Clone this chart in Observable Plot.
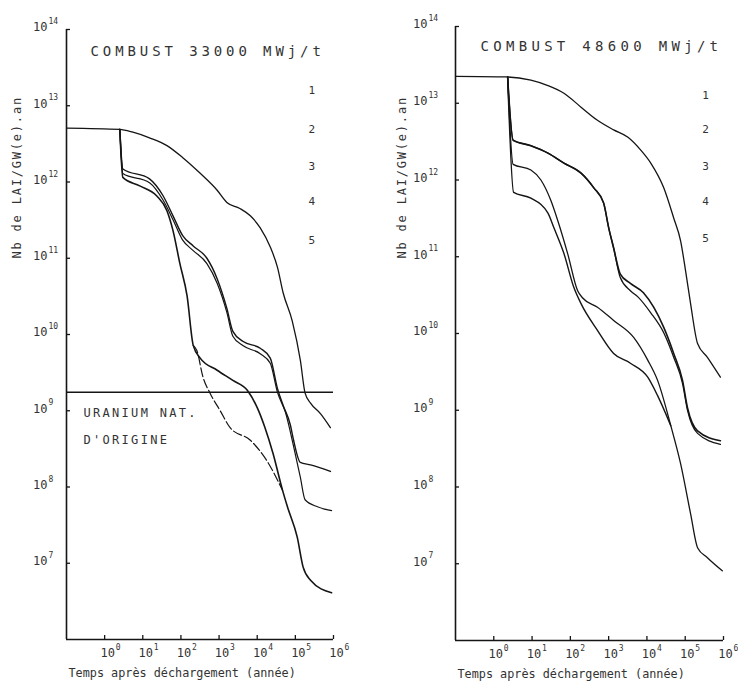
<!DOCTYPE html>
<html><head><meta charset="utf-8">
<script src="https://cdn.jsdelivr.net/npm/d3@7"></script>
<script src="https://cdn.jsdelivr.net/npm/@observablehq/plot@0.6"></script>
<style>
body{margin:0;background:#fff;}
#wrap{display:flex;width:738px;height:682px;overflow:hidden;}
</style></head><body><div id="wrap"></div>
<script>
// ---- texts / ticks ----
const xTicks = [1, 10, 100, 1000, 1e4, 1e5, 1e6];
const yTicks = [1e7, 1e8, 1e9, 1e10, 1e11, 1e12, 1e13, 1e14];
const curveLabels = ["1", "2", "3", "4", "5"];
const yAxisTitle = "Nb de LAI/GW(e).an";
const xAxisTitle = "Temps après déchargement (année)";
const leftTitle = "COMBUST 33000 MWj/t";
const rightTitle = "COMBUST 48600 MWj/t";
const uraniumText = ["URANIUM NAT.", "D'ORIGINE"];
const uraniumLevel = 1.75e9;

// ---- left panel (33000 MWj/t): [time (years), Nb LAI/GW(e).an] ----
const left1 = [[0.1,5.1e12],[2.5,4.9e12],[5.5,4.5e12],[15,3.8e12],[43,3.0e12],[110,2.1e12],[320,1.3e12],[890,7.8e11],[1600,5.4e11],[3500,4.5e11],[6600,3.6e11],[1.2e4,2.5e11],[2.2e4,1.4e11],[3.4e4,7.6e10],[4.8e4,3.5e10],[8.3e4,1.5e10],[1.35e5,4.6e9],[1.8e5,1.7e9],[2.5e5,1.26e9],[4.6e5,9.1e8],[8.3e5,6.0e8]];
const left2 = [[2.5,4.9e12],[3.0,1.48e12],[15,1.1e12],[34,6.6e11],[62,3.6e11],[110,2.0e11],[210,1.45e11],[480,1.0e11],[890,5.4e10],[1600,2.2e10],[2300,1.1e10],[4300,8.1e9],[1.2e4,6.6e9],[2.2e4,4.9e9],[3.4e4,1.95e9],[4.8e4,1.17e9],[7.4e4,6.5e8],[8.9e4,4.2e8],[1.35e5,2.1e8],[2.5e5,1.95e8],[8.3e5,1.6e8]];
const left3 = [[2.5,4.9e12],[3.0,1.29e12],[15,9.8e11],[34,5.8e11],[62,3.2e11],[110,1.74e11],[210,1.26e11],[480,8.5e10],[890,4.7e10],[1600,1.95e10],[2300,9.5e9],[4300,7.1e9],[1.2e4,5.6e9],[2.2e4,4.2e9],[3.4e4,1.74e9],[5.5e4,9.5e8],[8.9e4,3.5e8],[1.35e5,1.35e8],[1.8e5,6.8e7],[3.8e5,5.5e7],[8.9e5,4.9e7]];
const left4 = [[2.5,4.9e12],[3.0,1.15e12],[8.3,8.9e11],[23,6.6e11],[43,4.2e11],[62,2.3e11],[93,8.7e10],[145,3.2e10],[210,7.2e9],[320,4.9e9],[890,3.4e9],[2300,2.5e9],[5500,1.86e9],[1.0e4,1.1e9],[1.6e4,6.0e8],[2.6e4,2.75e8],[4.6e4,9.1e7],[6.2e4,5.5e7],[1.12e5,2.2e7],[1.6e5,8.9e6],[2.5e5,6.0e6],[8.9e5,4.1e6]];
const left5 = [[210,7.2e9],[260,6.2e9],[380,2.75e9],[580,1.7e9],[1070,1.0e9],[1950,6.0e8],[6600,4.1e8],[1.8e4,2.2e8],[4.6e4,9.1e7]];

// ---- right panel (48600 MWj/t) ----
const right1 = [[0.1,2.24e13],[2.3,2.2e13],[9.3,2.0e13],[26,1.7e13],[68,1.35e13],[190,8.9e12],[510,6.0e12],[1350,4.5e12],[3200,3.6e12],[6900,2.45e12],[1.26e4,1.66e12],[2.75e4,7.9e11],[5.0e4,3.2e11],[7.6e4,1.6e11],[1.02e5,6.6e10],[1.38e5,2.45e10],[2.1e5,7.4e9],[3.8e5,4.9e9],[8.3e5,2.7e9]];
const right2 = [[2.3,2.2e13],[3.2,3.3e12],[9.3,2.8e12],[26,2.24e12],[68,1.66e12],[190,1.23e12],[410,7.9e11],[740,5.0e11],[1000,2.4e11],[1350,1.3e11],[2000,6.0e10],[3700,4.5e10],[8100,3.4e10],[1.5e4,2.2e10],[2.75e4,1.2e10],[5.0e4,5.5e9],[8.5e4,2.45e9],[1.15e5,1.07e9],[2.1e5,5.4e8],[8.3e5,4.0e8]];
const right3 = [[2.3,2.2e13],[3.2,3.3e12],[9.3,2.8e12],[26,2.24e12],[68,1.66e12],[190,1.23e12],[410,7.9e11],[740,5.0e11],[1000,2.4e11],[1350,1.3e11],[2000,5.4e10],[3700,3.6e10],[5800,3.0e10],[1.26e4,1.86e10],[2.75e4,1.02e10],[5.0e4,4.9e9],[8.5e4,2.24e9],[1.15e5,1.0e9],[2.1e5,5.0e8],[8.3e5,3.6e8]];
const right4 = [[2.3,2.2e13],[3.2,1.6e12],[9.3,1.35e12],[17,1.0e12],[31,5.4e11],[47,2.95e11],[85,1.1e11],[155,3.6e10],[210,2.9e10],[510,2.2e10],[1350,1.48e10],[4500,8.9e9],[1.05e4,4.5e9],[1.9e4,2.45e9],[4.2e4,6.3e8],[7.6e4,2.0e8],[1.38e5,4.5e7],[2.1e5,1.62e7],[3.8e5,1.2e7],[9.3e5,8.1e6]];
const right5 = [[2.3,2.2e13],[3.3,6.9e11],[9.3,5.8e11],[26,3.7e11],[37,2.4e11],[68,1.1e11],[123,4.0e10],[190,2.45e10],[510,1.1e10],[1350,5.5e9],[3700,4.1e9],[1.05e4,2.7e9],[1.9e4,1.55e9],[4.2e4,6.3e8]];

const INK = "#151515";
const TXT = "#333";
const MONO = "'DejaVu Sans Mono', 'Liberation Mono', monospace";

function panel(o) {
  const W = 369, H = 682;
  const fw = W - o.ml - o.mr, fh = H - o.mt - o.mb;
  const X0 = 0.1, Y0 = 1e6;
  const marks = [
    Plot.ruleX([X0], {stroke: INK, strokeWidth: 1.6}),
    Plot.ruleY([Y0], {stroke: INK, strokeWidth: 1.6}),
    Plot.tickX(xTicks, {x: d => d, insetTop: fh - 4, stroke: INK, strokeWidth: 1.3}),
    Plot.tickY(yTicks, {y: d => d, insetRight: fw - 4, stroke: INK, strokeWidth: 1.3}),
    // x tick labels
    Plot.text(xTicks, {x: d => d, y: Y0, text: () => "10", dy: 14, dx: o.xlDx, fontSize: 12, fill: TXT}),
    Plot.text(xTicks, {x: d => d, y: Y0, text: d => String(Math.round(Math.log10(d))), dy: 8, dx: o.xeDx, fontSize: 8, textAnchor: "start", fill: TXT}),
    // y tick labels
    Plot.text(yTicks, {x: X0, y: d => d, text: () => "10", dx: o.ylDx, dy: -2, fontSize: 12, textAnchor: "end", fill: TXT}),
    Plot.text(yTicks, {x: X0, y: d => d, text: d => String(Math.round(Math.log10(d))), dx: o.ylDx + 1, dy: -8, fontSize: 8, textAnchor: "start", fill: TXT}),
    // axis titles
    Plot.text([yAxisTitle], {frameAnchor: "left", rotate: -90, dx: o.ytDx, dy: o.ytDy, fontSize: 12, lineAnchor: "middle", fill: TXT}),
    Plot.text([xAxisTitle], {frameAnchor: "bottom-left", textAnchor: "start", lineAnchor: "middle", dx: 2, dy: 34, fontSize: 11.8, fill: TXT}),
    // panel title
    Plot.text([o.title], {frameAnchor: "top-left", textAnchor: "start", lineAnchor: "middle", dx: o.tDx, dy: o.tDy, fontSize: 14, fill: TXT}),
    // curve numbers
    Plot.text(curveLabels, {x: () => o.labelX, y: (d, i) => o.labelY[i], fontSize: 11, fill: TXT}),
    ...o.extra,
    ...o.curves.map(c => Plot.line(c.data, {x: d => d[0], y: d => d[1], stroke: INK, strokeWidth: c.w || 1.3, strokeDasharray: c.dash, curve: "monotone-x"}))
  ];
  const svg = Plot.plot({
    width: W, height: H,
    marginLeft: o.ml, marginRight: o.mr, marginTop: o.mt, marginBottom: o.mb,
    x: {type: "log", domain: [X0, 1e6], axis: null},
    y: {type: "log", domain: [Y0, 1e14], axis: null},
    style: {fontFamily: MONO, background: "white", overflow: "visible"},
    marks
  });
  d3.select(svg).selectAll("text").each(function () {
    const t = this.textContent;
    if (t === o.title) this.setAttribute("letter-spacing", o.tSpacing);
    else if (t === yAxisTitle) this.setAttribute("letter-spacing", "1.8");
    else if (uraniumText.includes(t)) this.setAttribute("letter-spacing", "2.3");
  });
  return svg;
}

const wrap = document.getElementById("wrap");
wrap.appendChild(panel({
  ml: 66, mr: 36, mt: 29, mb: 43,
  title: leftTitle, tDx: 24, tDy: 22, tSpacing: "3.9",
  xlDx: 3, xeDx: 11, ylDx: -19, ytDx: -49, ytDy: -76,
  labelX: 2.7e5, labelY: [1.6e13, 4.9e12, 1.6e12, 5.5e11, 1.7e11],
  extra: [
    Plot.ruleY([uraniumLevel], {stroke: INK, strokeWidth: 1.4}),
    Plot.text([uraniumText[0]], {x: 0.1, y: uraniumLevel, dx: 17, dy: 21, textAnchor: "start", fontSize: 12, fill: TXT}),
    Plot.text([uraniumText[1]], {x: 0.1, y: uraniumLevel, dx: 17, dy: 48, textAnchor: "start", fontSize: 12, fill: TXT})
  ],
  curves: [
    {data: left1, w: 1.3},
    {data: left2, w: 1.4},
    {data: left3, w: 1.2},
    {data: left4, w: 1.6},
    {data: left5, w: 1.2, dash: "9,3"}
  ]
}));
wrap.appendChild(panel({
  ml: 86, mr: 15, mt: 26, mb: 42,
  title: rightTitle, tDx: 25, tDy: 20, tSpacing: "4.3",
  xlDx: 2, xeDx: 10, ylDx: -28, ytDx: -53, ytDy: -75,
  labelX: 3.4e5, labelY: [1.26e13, 4.5e12, 1.5e12, 5.3e11, 1.74e11],
  extra: [],
  curves: [
    {data: right1, w: 1.3},
    {data: right2, w: 1.6},
    {data: right3, w: 1.3},
    {data: right4, w: 1.3},
    {data: right5, w: 1.4}
  ]
}));
</script></body></html>
